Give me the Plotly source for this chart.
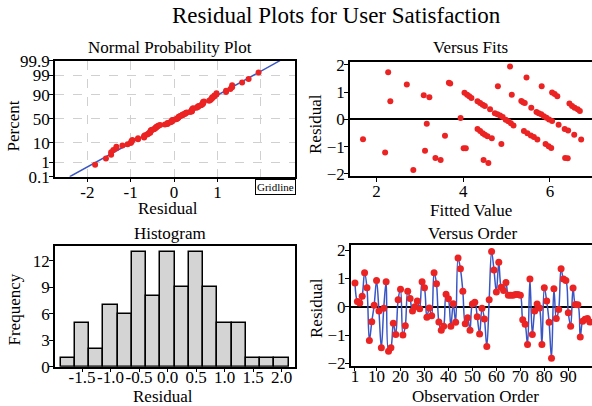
import plotly.graph_objects as go
from statistics import NormalDist, mean, stdev

W, H = 592, 406

# ---- data ----
ORDER_RESID = [0.84, 0.19, 0.13, 0.37, 1.20, 0.67, -1.19, -0.53, 0.05, 0.93,
               -0.15, -1.45, -0.05, 0.88, -1.57, -1.45, -0.58, -0.98, 0.25, 0.62,
               -1.00, -0.67, 0.55, 0.29, -0.15, 0.00, 0.20, -0.07, 0.88, 0.67,
               -0.37, -0.04, -0.32, 1.20, 0.81, -0.54, -0.83, -0.69, 0.44, 0.28,
               -0.69, 0.11, -0.55, 1.72, 1.34, 0.55, -0.60, -0.39, -0.83, 0.10,
               0.16, -0.35, -0.96, -0.05, -0.43, -1.40, 0.25, 1.95, 1.30, 0.52,
               1.57, 0.69, 0.57, 0.86, 0.41, 0.41, 0.41, 0.43, 0.43, 0.41,
               -0.46, -0.62, -1.33, 0.98, -0.98, -0.15, 0.10, -0.04, -1.33, 0.67,
               0.20, -0.55, -1.82, 0.64, -0.41, -0.10, 1.34, 0.98, 0.93, -0.21,
               -0.69, 0.66, 0.08, 0.07, -1.07, -0.51, -0.44, -0.41, -0.54]

FIT_VALUES = [1.69, 2.20, 2.27, 2.32, 2.70, 2.85, 3.09, 3.22, 3.16, 3.12,
              3.36, 3.48, 3.58, 3.67, 3.70,
              5.08, 4.80, 5.12, 4.03, 4.09, 4.14, 4.19, 4.33, 4.39, 4.45,
              4.50, 4.62, 4.73, 4.79, 4.85, 4.91, 4.98, 5.04, 5.10, 5.16,
              3.94, 4.33, 4.39, 4.45, 4.50, 4.56, 4.66, 4.88, 4.01, 4.06,
              4.47, 4.58,
              5.46, 5.81, 6.05, 6.11, 6.17, 5.34, 5.38, 5.42, 5.57, 5.69,
              5.74, 5.80, 5.86, 5.92, 5.98, 6.05, 6.20, 6.34, 6.42, 6.56,
              6.72, 6.45, 6.51, 6.57, 6.64, 6.69, 5.40, 5.48, 5.56, 5.63,
              5.71, 5.90, 5.97, 6.03, 6.35, 6.41]
FIT_RESID = [-0.73, -1.22, 1.73, 0.67, 1.28, -1.86, 0.89, 0.81, -0.16, -1.15,
             -1.42, -1.49, -0.60, 1.35, 1.32,
             1.94, 1.22, 0.91, 0.98, 0.91, 0.85, 0.79, 0.67, 0.60, 0.54,
             0.49, 0.37, 0.23, 0.19, 0.14, 0.09, -0.01, -0.07, -0.14, -0.22,
             0.05, -0.35, -0.43, -0.51, -0.56, -0.62, -0.69, -0.90, -1.06, -1.06,
             -1.49, -1.60,
             1.54, 1.22, 0.99, 0.93, 0.85, 0.68, 0.63, 0.60, 0.43, 0.27,
             0.23, 0.19, 0.12, 0.06, 0.00, -0.06, -0.20, -0.35, -0.41, -0.56,
             -0.74, 0.58, 0.49, 0.43, 0.37, 0.31, -0.43, -0.51, -0.59, -0.65,
             -0.74, -0.90, -0.99, -1.05, -1.42, -1.43]

HIST_CENTERS = [-1.75, -1.5, -1.25, -1.0, -0.75, -0.5, -0.25, 0.0,
                0.25, 0.5, 0.75, 1.0, 1.25, 1.5, 1.75, 2.0]
HIST_COUNTS = [1, 5, 2, 7, 6, 13, 8, 13, 9, 13, 9, 5, 5, 1, 1, 1]
HIST_TICKS = [-1.5, -1.0, -0.5, 0.0, 0.5, 1.0, 1.5, 2.0]
HIST_TICK_TEXT = ["-1.5", "-1.0", "-0.5", "0.0", "0.5", "1.0", "1.5", "2.0"]

PROB_PCT = [0.1, 1, 10, 50, 90, 99, 99.9]
PROB_PCT_TEXT = ["0.1", "1", "10", "50", "90", "99", "99.9"]
PROB_X_TICKS = [-2, -1, 0, 1, 2]
PROB_X_TEXT = ["-2", "-1", "0", "1", ""]

ORDER_TICKS = [1, 10, 20, 30, 40, 50, 60, 70, 80, 90]
RESID_TICKS = [-2, -1, 0, 1, 2]
FIT_TICKS = [2, 4, 6]
FREQ_TICKS = [0, 3, 6, 9, 12]

# ---- styling ----
RED = "#ec2323"
BLUE = "#3a56c4"
FONT = "Liberation Serif"
ND = NormalDist()


def fx(px):
    return px / W


def fy(py):
    return 1 - py / H


# normal probability plot positions
n = len(ORDER_RESID)
sorted_res = sorted(ORDER_RESID)
prob_z = [ND.inv_cdf((i + 1 - 0.3) / (n + 0.4)) for i in range(n)]
mu, sd = mean(ORDER_RESID), stdev(ORDER_RESID)
zlo, zhi = ND.inv_cdf(0.001), ND.inv_cdf(0.999)
line_x = [mu + zlo * sd, mu + zhi * sd]
line_z = [zlo, zhi]

fig = go.Figure()

# Normal probability plot
fig.add_trace(go.Scatter(x=line_x, y=line_z, mode="lines",
                         line=dict(color=BLUE, width=1.5),
                         xaxis="x", yaxis="y", showlegend=False))
fig.add_trace(go.Scatter(x=sorted_res, y=prob_z, mode="markers",
                         marker=dict(color=RED, size=6),
                         xaxis="x", yaxis="y", showlegend=False))

# Versus fits
fig.add_trace(go.Scatter(x=FIT_VALUES, y=FIT_RESID, mode="markers",
                         marker=dict(color=RED, size=6),
                         xaxis="x2", yaxis="y2", showlegend=False))

# Histogram
fig.add_trace(go.Bar(x=HIST_CENTERS, y=HIST_COUNTS, width=0.25,
                     marker=dict(color="#d4d4d4",
                                 line=dict(color="black", width=1.5)),
                     xaxis="x3", yaxis="y3", showlegend=False))

# Versus order
obs = list(range(1, n + 1))
fig.add_trace(go.Scatter(x=obs, y=ORDER_RESID, mode="lines+markers",
                         line=dict(color=BLUE, width=1.5, shape="spline",
                                   smoothing=1.0),
                         marker=dict(color=RED, size=7),
                         xaxis="x4", yaxis="y4", showlegend=False))

axis_common = dict(showline=True, linecolor="black", linewidth=1.5,
                   ticks="outside", ticklen=4, tickwidth=1.2,
                   tickcolor="black", zeroline=False, showgrid=False,
                   automargin=False, tickangle=0,
                   tickfont=dict(family=FONT, size=17, color="black"))
xa_top = dict(axis_common, ticklabelstandoff=-5)
xa_bot = dict(axis_common, ticklabelstandoff=-10)
ya = dict(axis_common, ticklabelstandoff=-4)

fig.update_layout(
    width=W, height=H, autosize=False,
    margin=dict(l=0, r=0, t=0, b=0, pad=0, autoexpand=False),
    paper_bgcolor="white", plot_bgcolor="white",
    font=dict(family=FONT, size=17, color="black"),
    bargap=0, showlegend=False,
    xaxis=dict(xa_top, domain=[fx(55), fx(295)], anchor="y",
               range=[-2.745, 2.79], tickmode="array",
               tickvals=PROB_X_TICKS, ticktext=PROB_X_TEXT, mirror=True,
               showgrid=True, gridcolor="#d0d0d0", griddash="dash",
               gridwidth=1),
    yaxis=dict(ya, domain=[fy(176.7), fy(60.7)], anchor="x",
               range=[zlo, zhi], tickmode="array",
               tickvals=[ND.inv_cdf(p / 100) for p in PROB_PCT],
               ticktext=PROB_PCT_TEXT, mirror=True,
               showgrid=True, gridcolor="#d0d0d0", griddash="dash",
               gridwidth=1),
    xaxis2=dict(xa_top, domain=[fx(350), 1.0], anchor="y2",
                range=[1.39, 6.97], tickmode="array", tickvals=FIT_TICKS,
                mirror=True),
    yaxis2=dict(ya, domain=[fy(176), fy(61.7)], anchor="x2",
                range=[-2.08, 2.12], tickmode="array", tickvals=RESID_TICKS,
                zeroline=True, zerolinecolor="black", zerolinewidth=1.5),
    xaxis3=dict(xa_bot, domain=[fx(55), fx(295)], anchor="y3",
                range=[-1.975, 2.236], tickmode="array",
                tickvals=HIST_TICKS, ticktext=HIST_TICK_TEXT, mirror=True),
    yaxis3=dict(ya, domain=[fy(366.7), fy(246)], anchor="x3",
                range=[0, 13.66], tickmode="array", tickvals=FREQ_TICKS,
                mirror=True),
    xaxis4=dict(xa_bot, domain=[fx(350.7), 1.0], anchor="y4",
                range=[-0.79, 99.9], tickmode="array", tickvals=ORDER_TICKS,
                mirror=True),
    yaxis4=dict(ya, domain=[fy(365.7), fy(245)], anchor="x4",
                range=[-2.08, 2.18], tickmode="array", tickvals=RESID_TICKS,
                zeroline=True, zerolinecolor="black", zerolinewidth=1.5),
)


def label(text, x, y, size=17, angle=0):
    fig.add_annotation(text=text, x=fx(x), y=fy(y), xref="paper",
                       yref="paper", showarrow=False, xanchor="center",
                       yanchor="middle", textangle=angle,
                       font=dict(family=FONT, size=size, color="black"))


label("Residual Plots for User Satisfaction", 336, 16, size=23)
label("Normal Probability Plot", 170, 47.5)
label("Versus Fits", 470, 47.5)
label("Histogram", 170, 233.5)
label("Versus Order", 473, 233.5)

label("Percent", 13, 126.5, angle=-90)
label("Residual", 168, 208)
label("Residual", 315, 124, angle=-90)
label("Fitted Value", 471, 210)
label("Frequency", 13.5, 310, angle=-90)
label("Residual", 163, 396)
label("Residual", 316, 308, angle=-90)
label("Observation Order", 475, 396)

fig.add_annotation(text="Gridline", x=fx(275.7), y=fy(186.7), xref="paper",
                   yref="paper", showarrow=False, xanchor="center",
                   yanchor="middle", bgcolor="white", bordercolor="black",
                   borderwidth=1, borderpad=1,
                   font=dict(family=FONT, size=11, color="black"))

fig.write_html("out.html",
               config={"displayModeBar": False},
               post_script="document.body.style.margin='0px';")
